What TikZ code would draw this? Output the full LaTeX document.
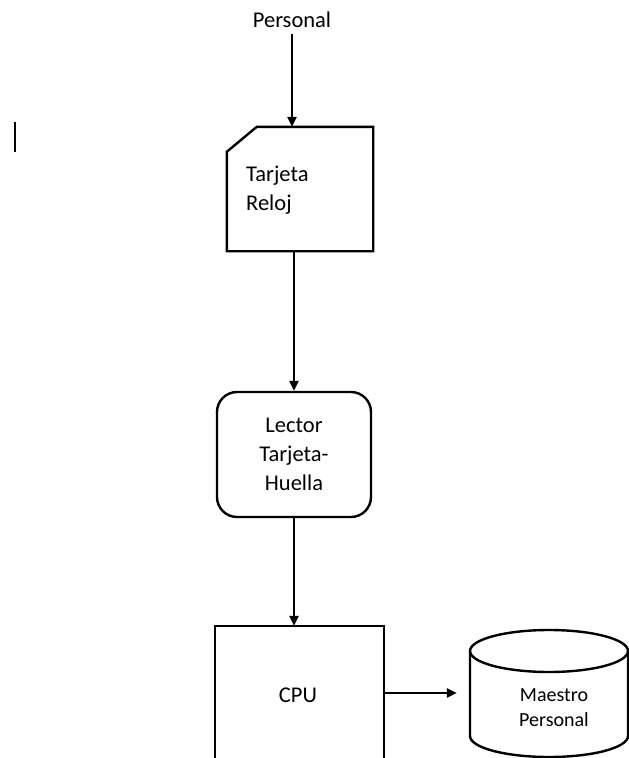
\documentclass[tikz,border=0pt]{standalone}
\usepackage{fontspec}
\setmainfont{Carlito}
\usetikzlibrary{arrows.meta}
\begin{document}
\begin{tikzpicture}[x=1pt,y=-1pt,
  line width=2.4pt,
  arr/.style={-{Triangle[length=10pt,width=9pt]}},
  lbl/.style={font=\fontsize{22.5}{29}\selectfont, inner sep=0pt},
  small/.style={font=\fontsize{20}{25}\selectfont, inner sep=0pt},
  blank/.style={draw=none, inner sep=0pt}]
\useasboundingbox (0,0) rectangle (629,758);
\clip (0,0) rectangle (629,758);
\fill[white] (0,0) rectangle (629,758);
% stray mark
\draw[line width=2.8pt] (15,122) -- (15,152);
% nodes
\node[lbl, inner sep=5pt] (personal) at (292,20) {Personal};
\node[blank, minimum width=144pt, minimum height=122pt] (card) at (300,189) {};
\draw ([xshift=30pt]card.north west) -- (card.north east) -- (card.south east)
  -- (card.south west) -- ([yshift=-25pt]card.north west) -- cycle;
\node[lbl, anchor=west, align=left] (cardtxt) at (245,190) {Tarjeta\\Reloj};
\node[draw, rounded corners=20pt, minimum width=154pt, minimum height=125pt,
  lbl, align=center] (lector) at (294,454.5) {Lector\\Tarjeta-\\Huella};
\node[blank, minimum width=167pt, minimum height=132pt] (cpu) at (299.5,693) {};
\draw (cpu.south west) -- (cpu.north west) -- (cpu.north east) -- (cpu.south east);
\node[lbl] (cputxt) at (298,695) {CPU};
% database cylinder
\node[blank, minimum width=158pt, minimum height=128pt] (db) at (549,693) {};
\draw (470,651) -- (470,736) arc[start angle=180,end angle=360,x radius=79pt,y radius=21pt] -- (628,651);
\draw (549,651) ellipse[x radius=79pt, y radius=21pt];
\node[small, align=center] (dbtxt) at (554,707.5) {Maestro\\Personal};
% connectors
\draw[arr] (personal.south) -- (personal.south |- card.north);
\draw[arr] (lector.north |- card.south) -- (lector.north);
\draw[arr] (lector.south) -- (lector.south |- cpu.north);
\draw[arr, shorten >=12pt] (cpu.east) -- (db.west);
\end{tikzpicture}
\end{document}
